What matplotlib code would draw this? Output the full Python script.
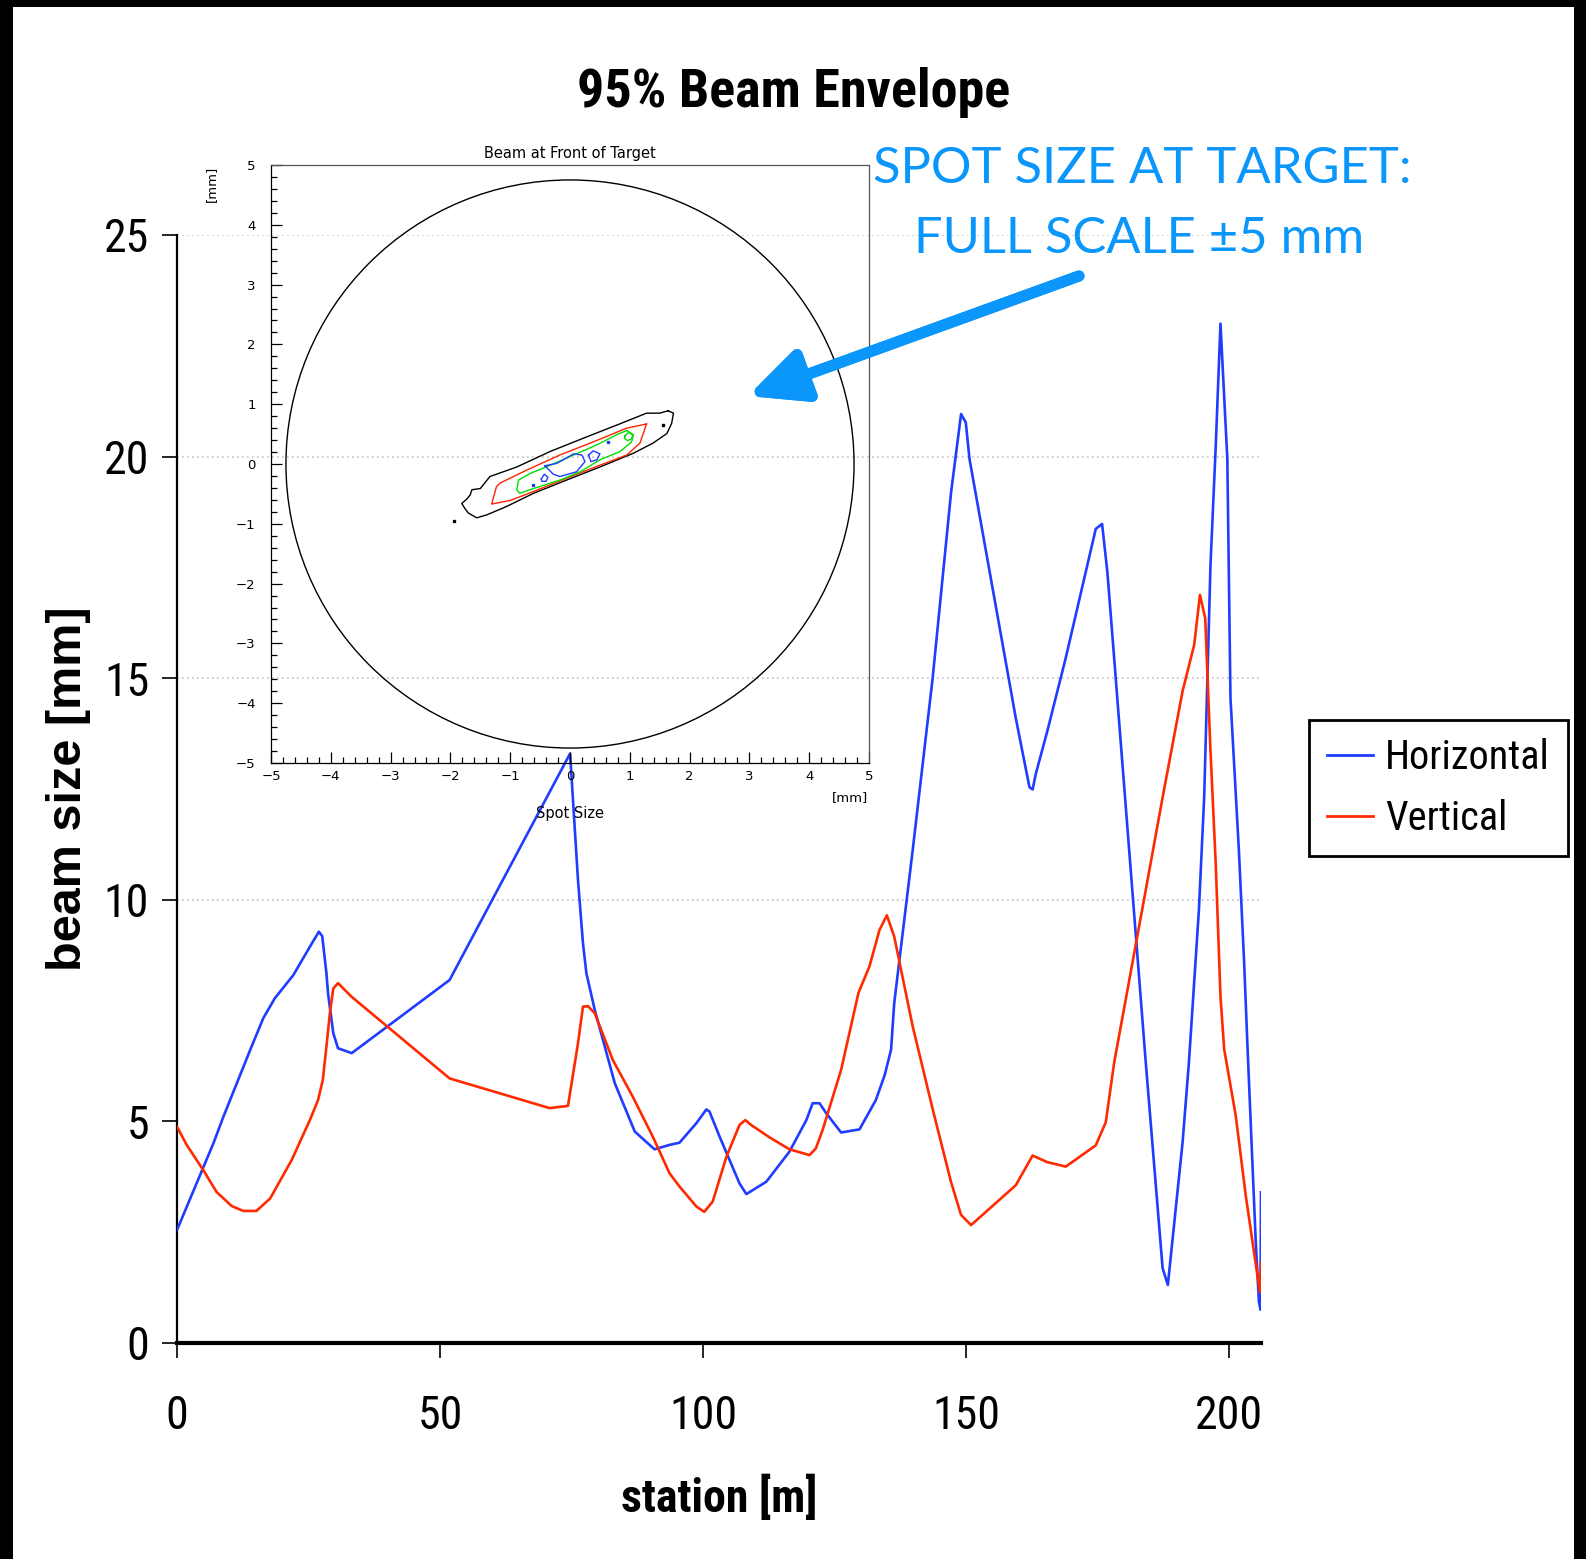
import numpy as np
import matplotlib
matplotlib.use("Agg")
import matplotlib.pyplot as plt
from matplotlib.patches import Rectangle, Circle
from matplotlib.ticker import MultipleLocator
from matplotlib import font_manager

# beam envelope along the line (station in m, 95% size in mm)
h_station = [0, 6.9, 8.8, 13.9, 16.4, 18.6, 22.1, 25.25, 26.96, 27.6, 28.4, 28.7, 29.7, 30.6, 33.2,
             51.8, 74.7, 76.2, 77.15, 77.8, 79.4, 83.2, 87.0, 90.75, 93.6, 95.5, 98.7, 100.6, 101.2,
             103.1, 106.9, 108.2, 112.0, 116.4, 119.6, 120.8, 122.1, 123.4, 126.2, 129.7, 132.8,
             134.5, 135.7, 136.3, 139.8, 143.6, 147.1, 149.0, 149.9, 150.6, 159.4, 162.0, 162.6,
             163.2, 165.4, 168.9, 174.6, 175.8, 176.8, 177.8, 184.1, 187.3, 188.3, 191.1, 192.3,
             194.2, 195.2, 196.4, 197.4, 198.3, 199.6, 200.2, 201.8, 202.8, 203.4, 205.0, 205.6,
             205.9, 206.0]
h_size = [2.55, 4.5, 5.1, 6.61, 7.33, 7.78, 8.30, 8.94, 9.28, 9.18, 8.34, 7.89, 6.99, 6.65, 6.54,
          8.19, 13.3, 10.45, 9.02, 8.34, 7.51, 5.86, 4.77, 4.37, 4.47, 4.52, 4.96, 5.27, 5.22,
          4.66, 3.60, 3.36, 3.64, 4.32, 5.03, 5.41, 5.41, 5.18, 4.75, 4.82, 5.48,
          6.05, 6.62, 7.67, 11.11, 15.0, 19.19, 20.96, 20.77, 19.95, 14.1, 12.54, 12.49,
          12.84, 13.81, 15.46, 18.37, 18.48, 17.40, 15.9, 6.33, 1.69, 1.31, 4.53, 6.33,
          9.77, 12.31, 17.55, 20.24, 23.0, 19.95, 14.55, 11.11, 8.57, 6.78, 2.29, 0.94,
          0.75, 3.4]

v_station = [0, 1.84, 5.0, 7.5, 10.4, 12.6, 15.1, 17.7, 21.8, 25.25, 26.8, 27.7, 28.4, 29.05, 29.7,
             30.6, 31.6, 33.2, 51.8, 70.8, 74.3, 76.2, 77.15, 78.1, 79.4, 82.8, 86.6, 90.4, 93.6,
             95.5, 98.7, 100.2, 101.8, 104.4, 106.9, 108.0, 109.1, 112.6, 116.4, 120.2, 121.4,
             122.7, 126.2, 129.5, 131.6, 133.5, 134.9, 136.3, 139.8, 143.6, 147.1, 149.0, 150.9,
             159.4, 162.6, 165.4, 168.9, 174.6, 176.5, 178.1, 184.1, 187.3, 191.1, 193.3, 194.4,
             195.4, 196.4, 197.4, 198.3, 199.0, 201.2, 203.1, 205.3, 205.8, 206.0]
v_size = [4.88, 4.47, 3.90, 3.41, 3.09, 2.98, 2.98, 3.26, 4.13, 5.03, 5.48, 5.93, 6.69, 7.44, 8.0,
          8.12, 8.0, 7.81, 5.97, 5.30, 5.35, 6.76, 7.59, 7.60, 7.44, 6.39, 5.56, 4.66, 3.83,
          3.53, 3.08, 2.96, 3.19, 4.20, 4.92, 5.03, 4.92, 4.64, 4.37, 4.24, 4.39,
          4.81, 6.16, 7.9, 8.50, 9.32, 9.65, 9.17, 7.15, 5.28, 3.63, 2.89, 2.66,
          3.56, 4.23, 4.08, 3.98, 4.46, 4.98, 6.33, 10.22, 12.31, 14.71, 15.75, 16.88,
          16.35, 13.36, 10.81, 7.82, 6.63, 5.13, 3.33, 1.54, 1.15, 1.8]

x_ticks = [0, 50, 100, 150, 200]
y_ticks = [0, 5, 10, 15, 20, 25]
grid_levels = [10, 15, 20, 25]

# spot at the target: contour outlines (mm)
outer_x = [1.64, 1.73, 1.70, 1.62, 1.39, 1.06, 0.50, -0.06, -0.61, -1.06, -1.39, -1.56, -1.70,
           -1.76, -1.81, -1.73, -1.67, -1.64, -1.50, -1.34, -0.89, -0.33, 0.22, 0.78, 1.28, 1.50, 1.64]
outer_y = [0.89, 0.85, 0.68, 0.51, 0.35, 0.18, -0.05, -0.27, -0.49, -0.71, -0.85, -0.90, -0.82,
           -0.74, -0.66, -0.59, -0.52, -0.43, -0.41, -0.21, -0.05, 0.21, 0.43, 0.65, 0.85, 0.85, 0.89]
red_x = [1.28, 1.17, 0.95, 0.50, -0.06, -0.61, -1.00, -1.31, -1.23, -1.17, -0.72, -0.17, 0.39, 0.95, 1.28]
red_y = [0.67, 0.35, 0.15, -0.02, -0.24, -0.46, -0.61, -0.67, -0.38, -0.32, -0.10, 0.15, 0.37, 0.60, 0.67]
green_x = [0.95, 1.06, 1.03, 0.84, 0.50, 0.17, -0.17, -0.61, -0.84, -0.89, -0.86, -0.67, -0.33,
           0.06, 0.45, 0.78, 0.95]
green_y = [0.56, 0.49, 0.37, 0.21, 0.07, -0.13, -0.27, -0.41, -0.49, -0.43, -0.27, -0.16, -0.02,
           0.15, 0.32, 0.49, 0.56]
green_loop_x = [0.92, 0.98, 1.05, 1.03, 0.96, 0.91, 0.92]
green_loop_y = [0.47, 0.53, 0.49, 0.42, 0.39, 0.43, 0.47]
blue_x = [-0.42, -0.22, -0.06, 0.06, 0.20, 0.25, 0.11, -0.17, -0.28, -0.42]
blue_y = [-0.03, 0.01, 0.10, 0.17, 0.15, 0.04, -0.13, -0.21, -0.17, -0.03]
blue2_x = [0.31, 0.39, 0.50, 0.45, 0.35, 0.31]
blue2_y = [0.15, 0.22, 0.17, 0.07, 0.04, 0.15]
blue3_x = [-0.48, -0.43, -0.37, -0.40, -0.47, -0.48]
blue3_y = [-0.25, -0.17, -0.22, -0.29, -0.29, -0.25]
dots_black = ([-1.94, 1.56], [-0.95, 0.66])
dots_blue = ([0.64, -0.62], [0.36, -0.35])
target_radius = 4.75

# pick a narrow sans face if one is installed
narrow, stretch = "Liberation Sans", "normal"
for f in font_manager.fontManager.ttflist:
    if f.name in ("Liberation Sans Narrow", "Roboto Condensed", "Open Sans Condensed", "Noto Sans Condensed"):
        narrow, stretch = f.name, "normal"
        break
    if f.name in ("DejaVu Sans", "Noto Sans", "Open Sans", "Roboto") and "condensed" in str(f.stretch):
        narrow, stretch = f.name, "condensed"
NARROW = dict(family=narrow, stretch=stretch)

BLUE = "#1f3cff"
RED = "#ff2a00"
CYAN = "#0a96fa"

W, H = 1586, 1559
fig = plt.figure(figsize=(W / 100, H / 100), dpi=100)
fig.patch.set_facecolor("black")
fig.patches.append(Rectangle((13 / W, 0), (1574 - 13) / W, 1 - 7 / H,
                             transform=fig.transFigure, facecolor="white",
                             edgecolor="none", zorder=-5))

ax = fig.add_axes([177 / W, 1 - 1343 / H, (1261 - 177) / W, (1343 - 235) / H])
ax.set_facecolor("none")
ax.hlines(grid_levels, 0, 206, colors="#c4c4c4", linestyles=(0, (1, 2)), lw=1.2, zorder=0)
ax.plot(h_station, h_size, color=BLUE, lw=1.9, label="Horizontal", zorder=3)
ax.plot(v_station, v_size, color=RED, lw=1.9, label="Vertical", zorder=3)
ax.set_xlim(0, 206)
ax.set_ylim(0, 25)
ax.set_xticks(x_ticks)
ax.set_yticks(y_ticks)
for s in ["top", "right"]:
    ax.spines[s].set_visible(False)
ax.spines["bottom"].set_linewidth(3)
ax.spines["left"].set_linewidth(1.6)
ax.tick_params(axis="both", direction="out", length=11, width=1.2, labelsize=33, pad=26)
ax.tick_params(axis="y", pad=9)
for lab in ax.get_xticklabels() + ax.get_yticklabels():
    lab.set_family(narrow)
    lab.set_stretch(stretch)
ax.set_xlabel("station [m]", fontsize=33, fontweight="bold", labelpad=26, **NARROW)
ax.set_ylabel("beam size [mm]", fontsize=35, fontweight="bold", family="Liberation Sans", labelpad=9)

fig.text(794 / W, 1 - 93 / H, "95% Beam Envelope", ha="center", va="center",
         fontsize=39, fontweight="bold", **NARROW)

leg = fig.legend(loc="upper right", bbox_to_anchor=(1568 / W, 1 - 720 / H),
                 prop={"family": narrow, "stretch": stretch, "size": 29}, frameon=True,
                 fancybox=False, framealpha=1, edgecolor="black", handlelength=1.15,
                 handletextpad=0.3, borderpad=0.45, labelspacing=0.55, borderaxespad=0)
leg.get_frame().set_linewidth(2)
for ln in leg.get_lines():
    ln.set_linewidth(2)

# inset: beam at the target
ai = fig.add_axes([271 / W, 1 - 763 / H, 598 / W, 598 / H])
ai.set_facecolor("none")
ai.set_xlim(-5, 5)
ai.set_ylim(-5, 5)
ai.add_patch(Circle((0, 0), target_radius, fill=False, edgecolor="black", lw=1))
ai.plot(outer_x, outer_y, color="black", lw=1)
ai.plot(red_x, red_y, color="#ff2200", lw=1)
ai.plot(green_x, green_y, color="#00dd00", lw=1)
ai.plot(green_loop_x, green_loop_y, color="#00dd00", lw=1)
for xs, ys in [(blue_x, blue_y), (blue2_x, blue2_y), (blue3_x, blue3_y)]:
    ai.plot(xs, ys, color="#1f3cff", lw=1)
ai.plot(*dots_black, ls="none", marker="s", ms=2, color="black")
ai.plot(*dots_blue, ls="none", marker="s", ms=2, color="#1f3cff")
ai.xaxis.set_major_locator(MultipleLocator(1))
ai.yaxis.set_major_locator(MultipleLocator(1))
ai.xaxis.set_minor_locator(MultipleLocator(0.2))
ai.yaxis.set_minor_locator(MultipleLocator(0.2))
ai.tick_params(which="both", direction="in", labelsize=9.5, width=0.9)
ai.tick_params(which="major", length=8)
ai.tick_params(which="minor", length=4)
ai.tick_params(axis="y", pad=11)
ai.tick_params(axis="x", pad=5)
for s in ai.spines.values():
    s.set_linewidth(0.9)
ai.spines["top"].set_color("#555555")
ai.spines["right"].set_color("#555555")
ai.set_title("Beam at Front of Target", fontsize=10.5, pad=5)
ai.text(-0.1, 0.968, "[mm]", transform=ai.transAxes, rotation=90, ha="center", va="center", fontsize=9.5)
ai.text(0.968, -0.058, "[mm]", transform=ai.transAxes, ha="center", va="center", fontsize=9.5)
ai.text(0.5, -0.084, "Spot Size", transform=ai.transAxes, ha="center", va="center", fontsize=10.5)

# callout
fig.text(1142 / W, 1 - 169 / H, "SPOT SIZE AT TARGET:", ha="center", va="center",
         fontsize=36.5, color=CYAN, family="Lato")
fig.text(1139 / W, 1 - 239 / H, "FULL SCALE \u00b15 mm", ha="center", va="center",
         fontsize=36.5, color=CYAN, family="Lato")
fig.add_artist(plt.annotate("", xy=(748, H - 396), xytext=(1079, H - 276),
                            xycoords="figure pixels", textcoords="figure pixels",
                            arrowprops=dict(arrowstyle="-|>,head_length=3.4,head_width=1.6",
                                            color=CYAN, lw=8, shrinkA=0, shrinkB=0)))

fig.savefig("out.png", dpi=100, facecolor=fig.get_facecolor())
